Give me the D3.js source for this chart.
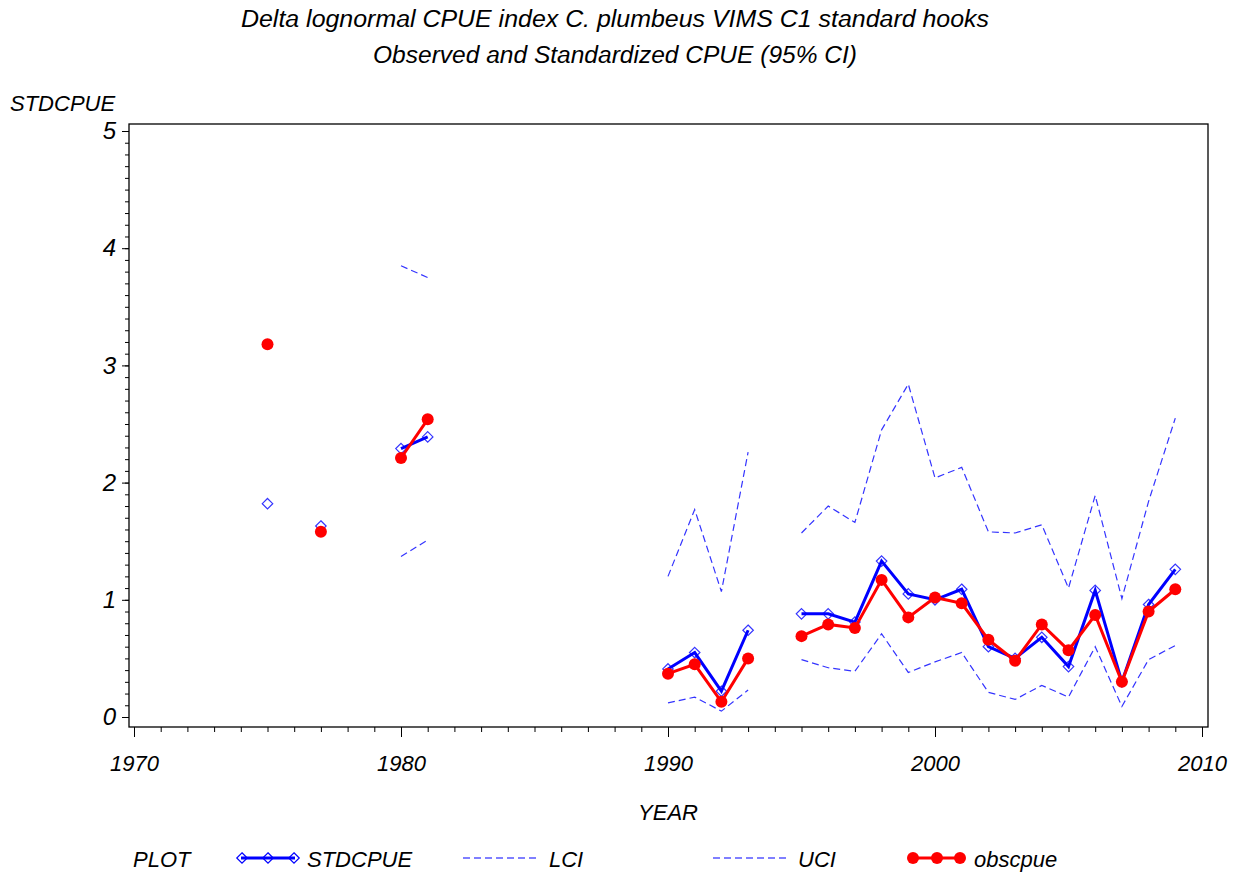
<!DOCTYPE html>
<html>
<head>
<meta charset="utf-8">
<script src="https://cdn.jsdelivr.net/npm/d3@7"></script>
<style>
  body { margin: 0; background: #fff; }
  text { font-family: "Liberation Sans", Arial, sans-serif; font-style: italic; fill: #000; }
</style>
</head>
<body>
<div id="chart"></div>
<script>
// data
var years = [1975, 1977, 1980, 1981, 1990, 1991, 1992, 1993,
  1995, 1996, 1997, 1998, 1999, 2000, 2001, 2002, 2003, 2004, 2005, 2006, 2007, 2008, 2009];
var stdcpue = [1.82, 1.63, 2.29, 2.39, 0.41, 0.55, 0.22, 0.74,
  0.88, 0.88, 0.81, 1.33, 1.05, 1.00, 1.09, 0.60, 0.50, 0.68, 0.43, 1.08, 0.30, 0.96, 1.26];
var obscpue = [3.18, 1.58, 2.21, 2.54, 0.37, 0.45, 0.13, 0.50,
  0.69, 0.79, 0.76, 1.17, 0.85, 1.02, 0.97, 0.66, 0.48, 0.79, 0.57, 0.87, 0.30, 0.90, 1.09];
var lci = [null, null, 1.37, 1.51, 0.12, 0.17, 0.05, 0.23,
  0.49, 0.42, 0.39, 0.71, 0.38, 0.47, 0.55, 0.21, 0.15, 0.27, 0.17, 0.60, 0.09, 0.49, 0.61];
var uci = [null, null, 3.85, 3.75, 1.20, 1.77, 1.07, 2.26,
  1.57, 1.80, 1.66, 2.45, 2.84, 2.04, 2.13, 1.58, 1.57, 1.64, 1.10, 1.89, 1.01, 1.84, 2.55];
var xTicks = [1970, 1980, 1990, 2000, 2010];
var yTicks = [0, 1, 2, 3, 4, 5];
var titles = ["Delta lognormal CPUE index C. plumbeus VIMS C1 standard hooks",
  "Observed and Standardized CPUE (95% CI)"];
var titleWidths = [748, 484];

var width = 1238, height = 877;
var blue = "#0000ff", red = "#ff0000";

var svg = d3.select("#chart")
    .append("svg")
    .attr("width", width)
    .attr("height", height);

var x = d3.scaleLinear().domain([1970, 2010]).range([134, 1202]);
var y = d3.scaleLinear().domain([0, 5]).range([717, 131]);

// titles
svg.selectAll(".title")
    .data(titles)
    .enter()
    .append("text")
    .attr("class", "title")
    .attr("x", 615)
    .attr("y", function (d, i) { return 27 + i * 36; })
    .attr("text-anchor", "middle")
    .attr("textLength", function (d, i) { return titleWidths[i]; })
    .attr("lengthAdjust", "spacingAndGlyphs")
    .style("font-size", "23px")
    .text(function (d) { return d; });

// frame
svg.append("rect")
    .attr("x", 129)
    .attr("y", 124)
    .attr("width", 1208 - 129)
    .attr("height", 727 - 124)
    .attr("fill", "none")
    .attr("stroke", "#000")
    .attr("stroke-width", 1.3);

// y axis: minor ticks then major ticks with labels
var yMinor = d3.range(0, 50).map(function (d) { return d / 10; }).concat([5]);
svg.append("g")
    .attr("transform", "translate(129,0)")
    .call(d3.axisLeft(y).tickValues(yMinor).tickSize(4).tickFormat(""))
    .call(function (g) { g.select(".domain").remove(); });
svg.append("g")
    .attr("transform", "translate(129,0)")
    .call(d3.axisLeft(y).tickValues(yTicks).tickSize(7).tickPadding(6).tickFormat(d3.format("d")))
    .call(function (g) {
        g.select(".domain").remove();
        g.selectAll("text").attr("fill", "#000").style("font-size", "24px")
            .style("font-family", "'Liberation Sans', Arial, sans-serif");
    });

// x axis
svg.append("g")
    .attr("transform", "translate(0,727)")
    .call(d3.axisBottom(x).tickValues(d3.range(1970, 2011)).tickSize(5).tickFormat(""))
    .call(function (g) { g.select(".domain").remove(); });
svg.append("g")
    .attr("transform", "translate(0,727)")
    .call(d3.axisBottom(x).tickValues(xTicks).tickSize(10).tickPadding(18).tickFormat(d3.format("d")))
    .call(function (g) {
        g.select(".domain").remove();
        g.selectAll("text").attr("fill", "#000").style("font-size", "22px")
            .style("font-family", "'Liberation Sans', Arial, sans-serif");
    });

svg.append("text")
    .attr("x", 10)
    .attr("y", 111)
    .style("font-size", "22px")
    .text("STDCPUE");

svg.append("text")
    .attr("x", 668)
    .attr("y", 820)
    .attr("text-anchor", "middle")
    .style("font-size", "22px")
    .text("YEAR");

// build rows, insert a break whenever a year is skipped
function series(vals) {
    var rows = [];
    years.forEach(function (yr, i) {
        if (i > 0 && yr - years[i - 1] > 1) rows.push(null);
        rows.push(vals[i] == null ? null : { year: yr, v: vals[i] });
    });
    return rows;
}

var line = d3.line()
    .defined(function (d) { return d != null; })
    .x(function (d) { return x(d.year); })
    .y(function (d) { return y(d.v); });

function dashed(vals) {
    svg.append("path")
        .datum(series(vals))
        .attr("d", line)
        .attr("fill", "none")
        .attr("stroke", blue)
        .attr("stroke-opacity", 0.8)
        .attr("stroke-width", 1.2)
        .attr("stroke-dasharray", "7,4");
}
dashed(lci);
dashed(uci);

// standardized
svg.append("path")
    .datum(series(stdcpue))
    .attr("d", line)
    .attr("fill", "none")
    .attr("stroke", blue)
    .attr("stroke-width", 3);

var diamond = d3.symbol().type(d3.symbolDiamond2).size(70);
svg.selectAll(".std")
    .data(series(stdcpue).filter(function (d) { return d != null; }))
    .enter()
    .append("path")
    .attr("class", "std")
    .attr("d", diamond)
    .attr("transform", function (d) { return "translate(" + x(d.year) + "," + y(d.v) + ")"; })
    .attr("fill", "none")
    .attr("stroke", blue)
    .attr("stroke-opacity", 0.8)
    .attr("stroke-width", 1.2);

// observed
svg.append("path")
    .datum(series(obscpue))
    .attr("d", line)
    .attr("fill", "none")
    .attr("stroke", red)
    .attr("stroke-width", 3);

svg.selectAll(".obs")
    .data(series(obscpue).filter(function (d) { return d != null; }))
    .enter()
    .append("circle")
    .attr("class", "obs")
    .attr("cx", function (d) { return x(d.year); })
    .attr("cy", function (d) { return y(d.v); })
    .attr("r", 6)
    .attr("fill", red);

// legend
var ly = 858;
svg.append("text").attr("x", 133).attr("y", ly + 9).style("font-size", "22px").text("PLOT");

svg.append("line").attr("x1", 241).attr("x2", 295).attr("y1", ly).attr("y2", ly)
    .attr("stroke", blue).attr("stroke-width", 3);
svg.selectAll(".legd")
    .data([242, 268, 294])
    .enter()
    .append("path")
    .attr("d", diamond)
    .attr("transform", function (d) { return "translate(" + d + "," + ly + ")"; })
    .attr("fill", "none")
    .attr("stroke", blue)
    .attr("stroke-width", 1.2);
svg.append("text").attr("x", 307).attr("y", ly + 9).style("font-size", "22px").text("STDCPUE");

svg.append("line").attr("x1", 463).attr("x2", 537).attr("y1", ly).attr("y2", ly)
    .attr("stroke", blue).attr("stroke-width", 1.2).attr("stroke-dasharray", "7,4");
svg.append("text").attr("x", 549).attr("y", ly + 9).style("font-size", "22px").text("LCI");

svg.append("line").attr("x1", 713).attr("x2", 787).attr("y1", ly).attr("y2", ly)
    .attr("stroke", blue).attr("stroke-width", 1.2).attr("stroke-dasharray", "7,4");
svg.append("text").attr("x", 798).attr("y", ly + 9).style("font-size", "22px").text("UCI");

svg.append("line").attr("x1", 912).attr("x2", 961).attr("y1", ly).attr("y2", ly)
    .attr("stroke", red).attr("stroke-width", 3);
svg.selectAll(".lego")
    .data([913, 937, 960])
    .enter()
    .append("circle")
    .attr("cx", function (d) { return d; })
    .attr("cy", ly)
    .attr("r", 6)
    .attr("fill", red);
svg.append("text").attr("x", 974).attr("y", ly + 9).style("font-size", "22px").text("obscpue");
</script>
</body>
</html>
